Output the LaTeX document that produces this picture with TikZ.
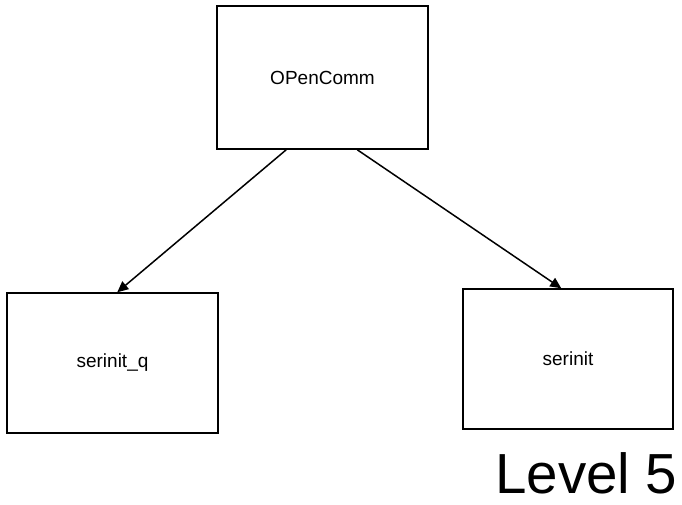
\documentclass[tikz,border=0pt]{standalone}
\usepackage{fontspec}
\setmainfont{Liberation Sans}
\usetikzlibrary{arrows.meta}
\begin{document}
\begin{tikzpicture}[x=1pt,y=-1pt,
  boxnode/.style={draw=black,line width=1.5pt,minimum width=#1,inner sep=0pt,font=\fontsize{19}{22}\selectfont},
  conn/.style={line width=1.5pt,-{Triangle[length=11pt,width=10pt]}}]
\useasboundingbox (0,0) rectangle (682,505);
\node[boxnode=211pt,minimum height=143pt] (top) at (322.5,77.5) {OPenComm};
\node[boxnode=211pt,minimum height=140pt] (left) at (112.5,363) {serinit\_q};
\node[boxnode=210pt,minimum height=140pt] (right) at (568,359) {serinit};
\draw[conn] ([xshift=70pt]top.south west) -- ([xshift=111pt]left.north west);
\draw[conn] ([xshift=141pt]top.south west) -- ([xshift=99pt]right.north west);
\node[anchor=base west,inner sep=0pt,font=\fontsize{56.5}{64}\selectfont] (lvl) at (495,493) {Level 5};
\end{tikzpicture}
\end{document}
